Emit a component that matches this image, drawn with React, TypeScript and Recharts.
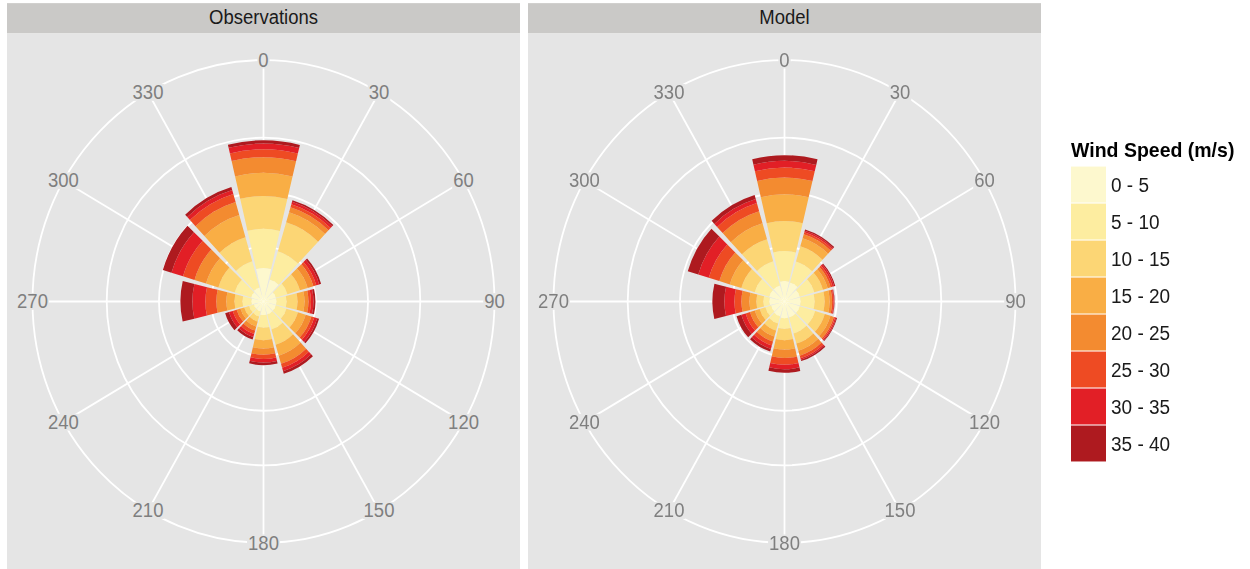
import {
  RadialBarChart,
  RadialBar,
  PolarGrid,
  PolarAngleAxis,
  PolarRadiusAxis,
} from "recharts";

// wind directions (degrees, clockwise from north)
const DIRECTIONS = [0, 30, 60, 90, 120, 150, 180, 210, 240, 270, 300, 330];

const SPEED_BINS = ["0 - 5", "5 - 10", "10 - 15", "15 - 20", "20 - 25", "25 - 30", "30 - 35", "35 - 40"];
const COLORS = ["#fdf8ce", "#fdeda0", "#fcd675", "#f9ae45", "#f38b30", "#ee4b23", "#e21f26", "#ae1a1f"];

// frequency (%) per direction, one array per speed bin
const obs0to5 = [3.06, 2.11, 1.24, 1.24, 1.24, 1.24, 1.24, 0.96, 0.96, 1.15, 1.24, 1.34];
const obs5to10 = [3.59, 2.68, 1.15, 0.96, 1.05, 1.44, 1.15, 0.48, 0.48, 0.86, 1.63, 2.49];
const obs10to15 = [3.01, 2.78, 1.24, 1.05, 1.15, 1.44, 1.15, 0.48, 0.48, 0.77, 1.63, 2.3];
const obs15to20 = [2.11, 0.96, 0.77, 0.67, 0.77, 1.05, 0.77, 0.48, 0.38, 0.77, 1.24, 2.11];
const obs20to25 = [1.44, 0.48, 0.57, 0.38, 0.57, 0.77, 0.57, 0.38, 0.38, 0.96, 1.15, 1.24];
const obs25to30 = [0.72, 0.29, 0.29, 0.24, 0.29, 0.38, 0.38, 0.33, 0.38, 1.05, 1.15, 0.77];
const obs30to35 = [0.53, 0.22, 0.29, 0.24, 0.29, 0.33, 0.33, 0.29, 0.38, 1.24, 1.15, 0.38];
const obs35to40 = [0.29, 0.16, 0.19, 0.19, 0.19, 0.24, 0.24, 0.24, 0.38, 1.15, 0.86, 0.29];

const mod0to5 = [1.87, 1.82, 1.53, 1.53, 1.53, 1.53, 1.53, 1.44, 1.34, 1.44, 1.53, 1.53];
const mod5to10 = [2.75, 2.01, 1.44, 1.34, 1.53, 1.53, 0.96, 0.67, 0.57, 0.57, 1.44, 2.3];
const mod10to15 = [2.75, 1.44, 0.86, 0.96, 0.96, 0.96, 1.05, 0.67, 0.57, 0.67, 1.34, 2.11];
const mod15to20 = [2.44, 0.77, 0.48, 0.48, 0.57, 0.67, 0.86, 0.57, 0.48, 0.67, 1.15, 1.53];
const mod20to25 = [1.53, 0.38, 0.29, 0.24, 0.33, 0.48, 0.77, 0.48, 0.48, 0.77, 1.05, 1.15];
const mod25to30 = [0.92, 0.19, 0.19, 0.14, 0.14, 0.24, 0.62, 0.38, 0.43, 0.67, 1.05, 0.77];
const mod30to35 = [0.61, 0.14, 0.16, 0.07, 0.11, 0.14, 0.41, 0.33, 0.43, 0.96, 1.05, 0.38];
const mod35to40 = [0.52, 0.14, 0.12, 0.03, 0.08, 0.14, 0.33, 0.24, 0.48, 1.15, 1.05, 0.38];

const R_MAX = 22.1;
const RADIAL_TICKS = [5, 10, 15, R_MAX];

const PANEL = 513;
const CENTER = PANEL / 2;
const OUTER_R = 231;
const PANEL_BG = "#e5e5e5";
const STRIP_BG = "#cac9c7";
const FONT = "'Liberation Sans', Arial, sans-serif";

const KEYS = ["s1", "s2", "s3", "s4", "s5", "s6", "s7", "s8"];

function buildRows(series: number[][]) {
  return DIRECTIONS.map((dir, i) => {
    const row: Record<string, number> = { dir };
    series.forEach((s, k) => {
      row[KEYS[k]] = s[i];
    });
    return row;
  });
}

const obsRows = buildRows([obs0to5, obs5to10, obs10to15, obs15to20, obs20to25, obs25to30, obs30to35, obs35to40]);
const modRows = buildRows([mod0to5, mod5to10, mod10to15, mod15to20, mod20to25, mod25to30, mod30to35, mod35to40]);

function DirectionTick(props: any) {
  const { payload } = props;
  const a = ((90 - Number(payload.value)) * Math.PI) / 180;
  const x = CENTER + OUTER_R * Math.cos(a);
  const y = CENTER - OUTER_R * Math.sin(a);
  const label = String(payload.value);
  const w = label.length * 10.3 + 2;
  return (
    <g>
      <rect x={x - w / 2} y={y - 8} width={w} height={16} fill={PANEL_BG} />
      <text
        x={x}
        y={y}
        textAnchor="middle"
        dominantBaseline="central"
        fontSize={18.5}
        fontFamily={FONT}
        fill="#7f7f7f"
      >
        {label}
      </text>
    </g>
  );
}

function WindRose({ title, rows, left }: { title: string; rows: any[]; left: number }) {
  return (
    <>
      <div
        style={{
          position: "absolute",
          left,
          top: 2.6,
          width: PANEL,
          height: 29.3,
          background: STRIP_BG,
          display: "flex",
          alignItems: "center",
          justifyContent: "center",
          fontFamily: FONT,
          fontSize: 18.5,
          color: "#1a1a1a",
        }}
      >
        {title}
      </div>
      <div style={{ position: "absolute", left, top: 31.9, width: PANEL, height: PANEL, background: PANEL_BG }}>
        {/* bars grow counter-clockwise from each band start, so the sweep begins at 75deg to centre 0 on north */}
        <RadialBarChart
          width={PANEL}
          height={PANEL}
          data={rows}
          layout="centric"
          cx={CENTER}
          cy={CENTER}
          innerRadius={0}
          outerRadius={OUTER_R}
          startAngle={75}
          endAngle={-285}
          barCategoryGap="4.5%"
          margin={{ top: 0, right: 0, bottom: 0, left: 0 }}
        >
          <PolarGrid
            gridType="circle"
            stroke="#ffffff"
            strokeWidth={1.8}
            polarAngles={DIRECTIONS.map((d) => 90 - d)}
          />
          <PolarRadiusAxis type="number" domain={[0, R_MAX]} ticks={RADIAL_TICKS} tick={false} axisLine={false} />
          {KEYS.map((k, i) => (
            <RadialBar key={k} dataKey={k} stackId="wind" fill={COLORS[i]} isAnimationActive={false} />
          ))}
          <PolarAngleAxis
            dataKey="dir"
            type="category"
            axisLine={false}
            tickLine={false}
            tick={(p: any) => <DirectionTick {...p} />}
          />
        </RadialBarChart>
      </div>
    </>
  );
}

function SpeedLegend() {
  const keyH = 35.4;
  const top = 158.9;
  return (
    <svg style={{ position: "absolute", left: 1060, top: 0 }} width={190} height={545}>
      <text x={11} y={143.5} dominantBaseline="central" fontFamily={FONT} fontWeight="bold" fontSize={19.5} fill="#000">
        Wind Speed (m/s)
      </text>
      {SPEED_BINS.map((label, i) => (
        <g key={label}>
          <rect x={11} y={top + i * keyH + 0.5} width={35} height={keyH - 1} fill={COLORS[i]} />
          <text
            x={51}
            y={top + i * keyH + keyH / 2}
            dominantBaseline="central"
            fontFamily={FONT}
            fontSize={19}
            fill="#1a1a1a"
          >
            {label}
          </text>
        </g>
      ))}
    </svg>
  );
}

export default function App() {
  return (
    <div style={{ position: "fixed", left: 0, top: 0, width: 1250, height: 569, overflow: "hidden", background: "#fff" }}>
      <div
        style={{
          position: "absolute",
          left: 0,
          top: 0,
          width: 1250,
          height: 545,
          transform: "scaleY(1.045)",
          transformOrigin: "0 0",
        }}
      >
        <WindRose title="Observations" rows={obsRows} left={7} />
        <WindRose title="Model" rows={modRows} left={528} />
        <SpeedLegend />
      </div>
    </div>
  );
}
